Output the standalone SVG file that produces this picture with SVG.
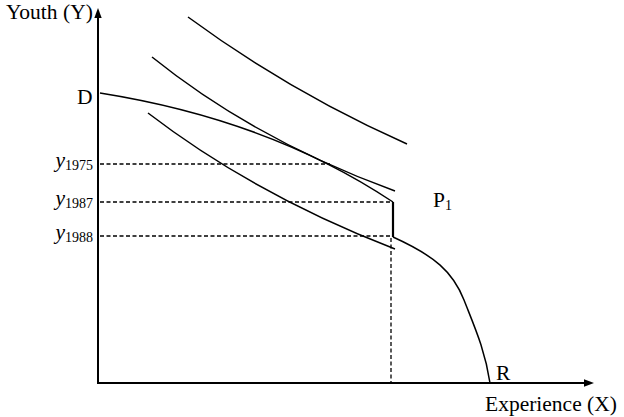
<svg xmlns="http://www.w3.org/2000/svg" width="624" height="417" viewBox="0 0 624 417">
<style>
.t{font-family:"Liberation Serif","Times New Roman",serif;font-size:21.5px;fill:#000}
.y{font-style:italic}
.s{font-size:14px;font-style:normal}
.ax{stroke:#000;stroke-width:2;fill:none}
.c{stroke:#000;stroke-width:1.5;fill:none}
.d{stroke:#000;stroke-width:1.3;stroke-dasharray:4 2.5;fill:none}
</style>
<rect width="624" height="417" fill="#fff"/>
<g id="axes">
<line class="ax" x1="98" y1="384" x2="98" y2="16"/>
<polygon points="98,8 94.3,18 101.7,18" fill="#000"/>
<line class="ax" x1="97" y1="383" x2="586" y2="383"/>
<polygon points="594,383 584,379.3 584,386.7" fill="#000"/>
</g>
<g id="guides">
<line class="d" x1="100" y1="164" x2="330" y2="164"/>
<line class="d" x1="100" y1="202" x2="393" y2="202"/>
<line class="d" x1="100" y1="236" x2="393" y2="236"/>
<line class="d" x1="391" y1="238" x2="391" y2="382"/>
</g>
<g id="indifference-curves">
<path class="c" d="M188,17 Q290,92 407,144"/>
<path class="c" d="M152,57 Q255,140 395,191"/>
<path class="c" d="M148,113 Q255,195 395,249"/>
</g>
<g id="ppf">
<path class="c" d="M100,93 Q270,120 393,202"/>
<line x1="393" y1="202" x2="393" y2="237" stroke="#000" stroke-width="2.2"/>
<path class="c" d="M393,237 C435,256 453,272 464,300 S485,350 490,383"/>
</g>
<g id="labels">
<text class="t" x="6" y="19">Youth (Y)</text>
<text class="t" x="77" y="104">D</text>
<text class="t y" x="93" y="167" text-anchor="end">y<tspan class="s" dy="3">1975</tspan></text>
<text class="t y" x="93" y="205" text-anchor="end">y<tspan class="s" dy="3">1987</tspan></text>
<text class="t y" x="93" y="239" text-anchor="end">y<tspan class="s" dy="3">1988</tspan></text>
<text class="t" x="433" y="207">P<tspan class="s" dy="3">1</tspan></text>
<text class="t" x="496" y="380">R</text>
<text class="t" x="485" y="411">Experience (X)</text>
</g>
</svg>
